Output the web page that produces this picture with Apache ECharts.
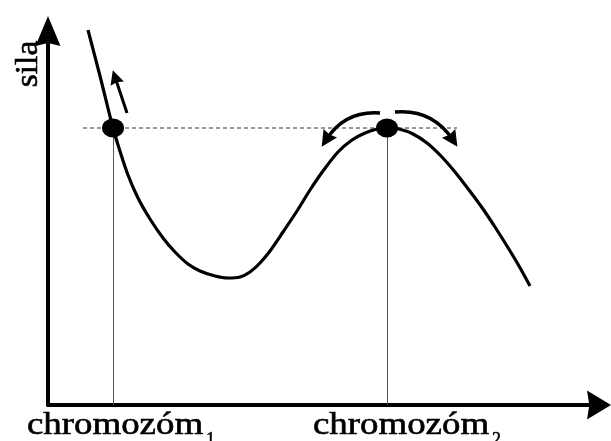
<!DOCTYPE html>
<html>
<head>
<meta charset="utf-8">
<title>sila - chromozóm</title>
<script src="https://cdn.jsdelivr.net/npm/echarts@6/dist/echarts.min.js"></script>
<style>
    html, body { margin: 0; padding: 0; background: #fff; }
    #main { width: 611px; height: 441px; }
</style>
</head>
<body>
<div id="main"></div>
<script>
// krivka sily (x, y v jednotkach osy)
var curveX = [40, 52, 65, 71, 80, 90, 102, 115, 127, 140, 152, 167, 180, 192, 202, 212, 222, 235, 249, 262, 275, 290, 304, 317, 329, 339, 351, 365, 379, 393, 407, 421, 435, 447, 459, 471, 482];
var curveY = [375, 329, 277, 257, 230, 207, 186, 167, 153, 141, 134, 129, 127, 128, 133, 142, 154, 173, 194, 215, 234, 253, 265, 272, 276, 277, 276, 271, 262, 249, 233, 215, 196, 178, 159, 139, 119];

// rovnovazne polohy chromozomov
var pointX = [65, 339];
var pointY = [277, 277];
var labels = ['chromozóm', 'chromozóm'];
var subs = ['1', '2'];

// prerusovana ciara
var dashX = [35, 409];

// sipky: [x1, y1, x2, y2]
var arrowStraight = [[79, 292, 67, 328]];
var arrowCurved = [[332, 292, 278, 265, -0.3], [347, 293, 405, 265, 0.3]];

var xMax = 551, yMax = 374;

var headUp = 'path://M5,0L10,12L5,10.8L0,12Z';
var headRight = 'path://M5,0L10,8.3L5,7.5L0,8.3Z';

var curveData = [];
for (var i = 0; i < curveX.length; i++) {
    curveData.push([curveX[i], curveY[i]]);
}
var dotData = [];
var vertData = [];
for (var i = 0; i < pointX.length; i++) {
    dotData.push([pointX[i], pointY[i]]);
    vertData.push({coords: [[pointX[i], pointY[i]], [pointX[i], 0]]});
}
var straightData = arrowStraight.map(function(a) {
    return {coords: [[a[0], a[1]], [a[2], a[3]]]};
});
var curvedData = arrowCurved.map(function(a) {
    return {coords: [[a[0], a[1]], [a[2], a[3]]], lineStyle: {curveness: a[4]}};
});

var myChart = echarts.init(document.getElementById('main'));
var option = {
    animation: false,
    grid: { left: 48, right: 12, top: 31, bottom: 36 },
    xAxis: {
        type: 'value', min: 0, max: xMax,
        axisLine: { lineStyle: { color: '#000', width: 4 }, symbol: ['none', headRight], symbolSize: [29, 24] },
        axisTick: { show: false }, axisLabel: { show: false }, splitLine: { show: false }
    },
    yAxis: {
        type: 'value', min: 0, max: yMax,
        axisLine: { show: true, lineStyle: { color: '#000', width: 4 }, symbol: ['none', headUp], symbolSize: [25, 30] },
        axisTick: { show: false }, axisLabel: { show: false }, splitLine: { show: false }
    },
    series: [{
        type: 'line',
        data: [[dashX[0], pointY[0]], [dashX[1], pointY[1]]],
        symbol: 'none',
        lineStyle: { color: '#777', width: 1.3, type: [4, 3] },
        z: 1
    }, {
        type: 'lines',
        coordinateSystem: 'cartesian2d',
        data: vertData,
        symbol: 'none',
        lineStyle: { color: '#555', width: 1, opacity: 1 },
        z: 2
    }, {
        type: 'line',
        data: curveData,
        smooth: 0.3,
        symbol: 'none',
        lineStyle: { color: '#000', width: 3.2 },
        z: 3
    }, {
        type: 'scatter',
        data: dotData,
        symbol: 'circle',
        symbolSize: [22, 19],
        itemStyle: { color: '#000', opacity: 1 },
        z: 4
    }, {
        type: 'lines',
        coordinateSystem: 'cartesian2d',
        data: straightData,
        symbol: ['none', headUp],
        symbolSize: 14,
        lineStyle: { color: '#000', width: 3, opacity: 1 },
        z: 5
    }, {
        type: 'lines',
        coordinateSystem: 'cartesian2d',
        data: curvedData,
        symbol: ['none', headUp],
        symbolSize: 16,
        lineStyle: { color: '#000', width: 3.5, opacity: 1 },
        z: 5
    }]
};
myChart.setOption(option);

// popisky osi (serif, mierne roztiahnute)
var graphics = [];
var labelShift = [2, 14];
for (var i = 0; i < pointX.length; i++) {
    var p = myChart.convertToPixel({gridIndex: 0}, [pointX[i], 0]);
    var cx = p[0] + labelShift[i];
    graphics.push({
        type: 'text', x: cx, y: 426, scaleX: 1.19,
        style: { text: labels[i], fontSize: 31, fontFamily: 'Liberation Serif', fill: '#000', stroke: '#000', lineWidth: 0.6, textAlign: 'center', textVerticalAlign: 'middle' }
    });
    graphics.push({
        type: 'text', x: cx + 91, y: 440,
        style: { text: subs[i], fontSize: 18, fontFamily: 'Liberation Serif', fill: '#000', stroke: '#000', lineWidth: 0.5, textAlign: 'left', textVerticalAlign: 'middle' }
    });
}
graphics.push({
    type: 'text', x: 29, y: 64, rotation: Math.PI / 2, scaleX: 1.05,
    style: { text: 'sila', fontSize: 32, fontFamily: 'Liberation Serif', fill: '#000', stroke: '#000', lineWidth: 0.6, textAlign: 'center', textVerticalAlign: 'middle' }
});
myChart.setOption({ graphic: graphics });
</script>
</body>
</html>
